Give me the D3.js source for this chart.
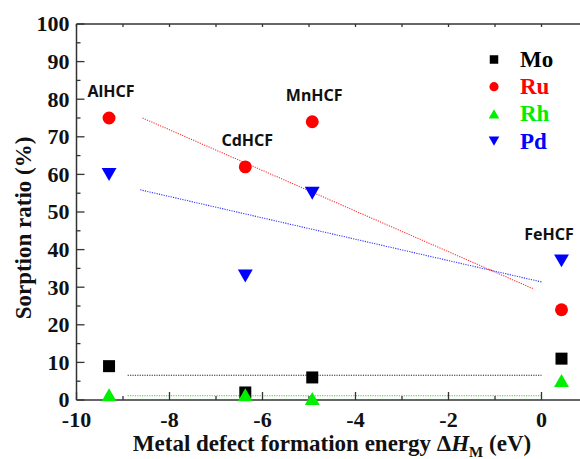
<!DOCTYPE html>
<html>
<head>
<meta charset="utf-8">
<script src="https://cdn.jsdelivr.net/npm/d3@7"></script>
<style>
  body { margin: 0; background: #fff; }
  svg { display: block; }
  .tick-label { font-family: 'Liberation Serif', 'Times New Roman', serif; font-weight: bold; font-size: 22px; fill: #111; }
  .title { font-family: 'Liberation Serif', 'Times New Roman', serif; font-weight: bold; font-size: 23px; fill: #111; }
  .hcf { font-family: 'Noto Sans', 'Open Sans', sans-serif; font-weight: bold; font-size: 16px; fill: #111; }
</style>
</head>
<body>
<svg id="chart"></svg>
<script>
// compounds and their metal defect formation energy (eV)
const hcfNames = ['AlHCF', 'CdHCF', 'MnHCF', 'FeHCF'];
const formationEnergy = [-9.3, -6.37, -4.93, 0.43];

// sorption ratio (%) per metal
const moValues = [9, 2, 6, 11];
const ruValues = [75, 62, 74, 24];
const rhValues = [1.4, 1.4, 0.4, 5.2];
const pdValues = [60, 33, 55, 37];

// dotted trend lines, endpoints [x0, y0, x1, y1]
const moFit = [-8.9, 6.6, 0, 6.6];
const ruFit = [-8.58, 75, -0.18, 29.6];
const rhFit = [-8.9, 1.15, 0, 1.15];
const pdFit = [-8.63, 55.9, 0, 31.4];

const xTicks = [-10, -8, -6, -4, -2, 0];
const yTicks = [0, 10, 20, 30, 40, 50, 60, 70, 80, 90, 100];

const W = 580, H = 459;
const svg = d3.select('#chart').attr('width', W).attr('height', H);

const x = d3.scaleLinear().domain([-10, 1]).range([76.5, 588]);
const y = d3.scaleLinear().domain([0, 100]).range([400, 24]);

const series = [
  { name: 'Mo', values: moValues, fit: moFit, color: '#000000', shape: 'square' },
  { name: 'Ru', values: ruValues, fit: ruFit, color: '#ff0000', shape: 'circle' },
  { name: 'Rh', values: rhValues, fit: rhFit, color: '#00ee00', shape: 'up' },
  { name: 'Pd', values: pdValues, fit: pdFit, color: '#0000ff', shape: 'down' }
];
const fitColor = { Mo: '#222', Ru: '#ff3333', Rh: '#22dd22', Pd: '#3333ff' };

function markerPath(shape, cx, cy, s) {
  const h = s / 2;
  if (shape === 'square') return `M${cx - h},${cy - h}h${s}v${s}h${-s}Z`;
  if (shape === 'circle') {
    const r = h * 1.08;
    return `M${cx - r},${cy}a${r},${r} 0 1,0 ${2 * r},0a${r},${r} 0 1,0 ${-2 * r},0Z`;
  }
  const w = s * 0.62, t = s * 0.54;
  if (shape === 'up') return `M${cx - w},${cy + t}L${cx + w},${cy + t}L${cx},${cy - t}Z`;
  return `M${cx - w},${cy - t}L${cx + w},${cy - t}L${cx},${cy + t}Z`;
}

// trend lines
const fits = svg.append('g');
series.forEach(s => {
  fits.append('line')
    .attr('x1', x(s.fit[0])).attr('y1', y(s.fit[1]))
    .attr('x2', x(s.fit[2])).attr('y2', y(s.fit[3]))
    .attr('stroke', fitColor[s.name])
    .attr('stroke-width', 1.1)
    .attr('stroke-dasharray', '1.2,1.2');
});

// axes
const axisColor = '#333';
const axes = svg.append('g').attr('stroke', axisColor).attr('stroke-width', 1.5).attr('fill', 'none');
axes.append('path').attr('d', `M${x(-10)},${y(0)}H${W + 2}`);
axes.append('path').attr('d', `M${x(-10)},${y(100)}H${W + 2}`);
axes.append('path').attr('d', `M${x(-10)},${y(0)}V${y(100)}`);

const ticks = svg.append('g').attr('stroke', axisColor).attr('stroke-width', 1.3);
d3.range(-10, 1.01, 1).forEach(v => {
  const len = v % 2 === 0 ? 8 : 4;
  ticks.append('line').attr('x1', x(v)).attr('x2', x(v)).attr('y1', y(0)).attr('y2', y(0) - len);
  ticks.append('line').attr('x1', x(v)).attr('x2', x(v)).attr('y1', y(100)).attr('y2', y(100) + 3);
});
d3.range(0, 100.01, 5).forEach(v => {
  const len = v % 10 === 0 ? 8 : 4;
  ticks.append('line').attr('x1', x(-10)).attr('x2', x(-10) + len).attr('y1', y(v)).attr('y2', y(v));
});

svg.append('g').selectAll('text').data(xTicks).join('text')
  .attr('class', 'tick-label')
  .attr('x', d => x(d)).attr('y', 427)
  .attr('text-anchor', 'middle')
  .text(d => d);

svg.append('g').selectAll('text').data(yTicks).join('text')
  .attr('class', 'tick-label')
  .attr('x', x(-10) - 7).attr('y', d => y(d))
  .attr('dy', '0.34em')
  .attr('text-anchor', 'end')
  .text(d => d);

// axis titles
svg.append('text')
  .attr('class', 'title')
  .attr('transform', 'translate(31,228) rotate(-90)')
  .attr('text-anchor', 'middle')
  .text('Sorption ratio (%)');

const xt = svg.append('text')
  .attr('class', 'title')
  .attr('x', 332).attr('y', 451)
  .attr('text-anchor', 'middle');
xt.append('tspan').text('Metal defect formation energy \u0394');
xt.append('tspan').attr('font-style', 'italic').text('H');
xt.append('tspan').attr('font-size', '15px').attr('dy', 6).text('M');
xt.append('tspan').attr('dy', -6).text(' (eV)');

// markers
series.forEach(s => {
  svg.append('g').selectAll('path').data(s.values).join('path')
    .attr('d', (v, i) => markerPath(s.shape, x(formationEnergy[i]), y(v), 12))
    .attr('fill', s.color);
});

// compound labels above the highest point
svg.append('g').selectAll('text').data(hcfNames).join('text')
  .attr('class', 'hcf')
  .attr('text-anchor', 'middle')
  .attr('x', (d, i) => Math.min(x(formationEnergy[i]) + 2, W - 31))
  .attr('y', (d, i) => y(d3.max(series, s => s.values[i])) - 21)
  .text(d => d);

// legend
const legend = svg.append('g');
series.forEach((s, i) => {
  const cy = 59.5 + i * 27.2;
  legend.append('path').attr('d', markerPath(s.shape, 494, cy, 8.5)).attr('fill', s.color);
  legend.append('text')
    .attr('class', 'title')
    .attr('x', 520).attr('y', cy + 7.5)
    .attr('font-size', '22px')
    .attr('fill', s.color)
    .style('fill', s.color)
    .text(s.name);
});
</script>
</body>
</html>
